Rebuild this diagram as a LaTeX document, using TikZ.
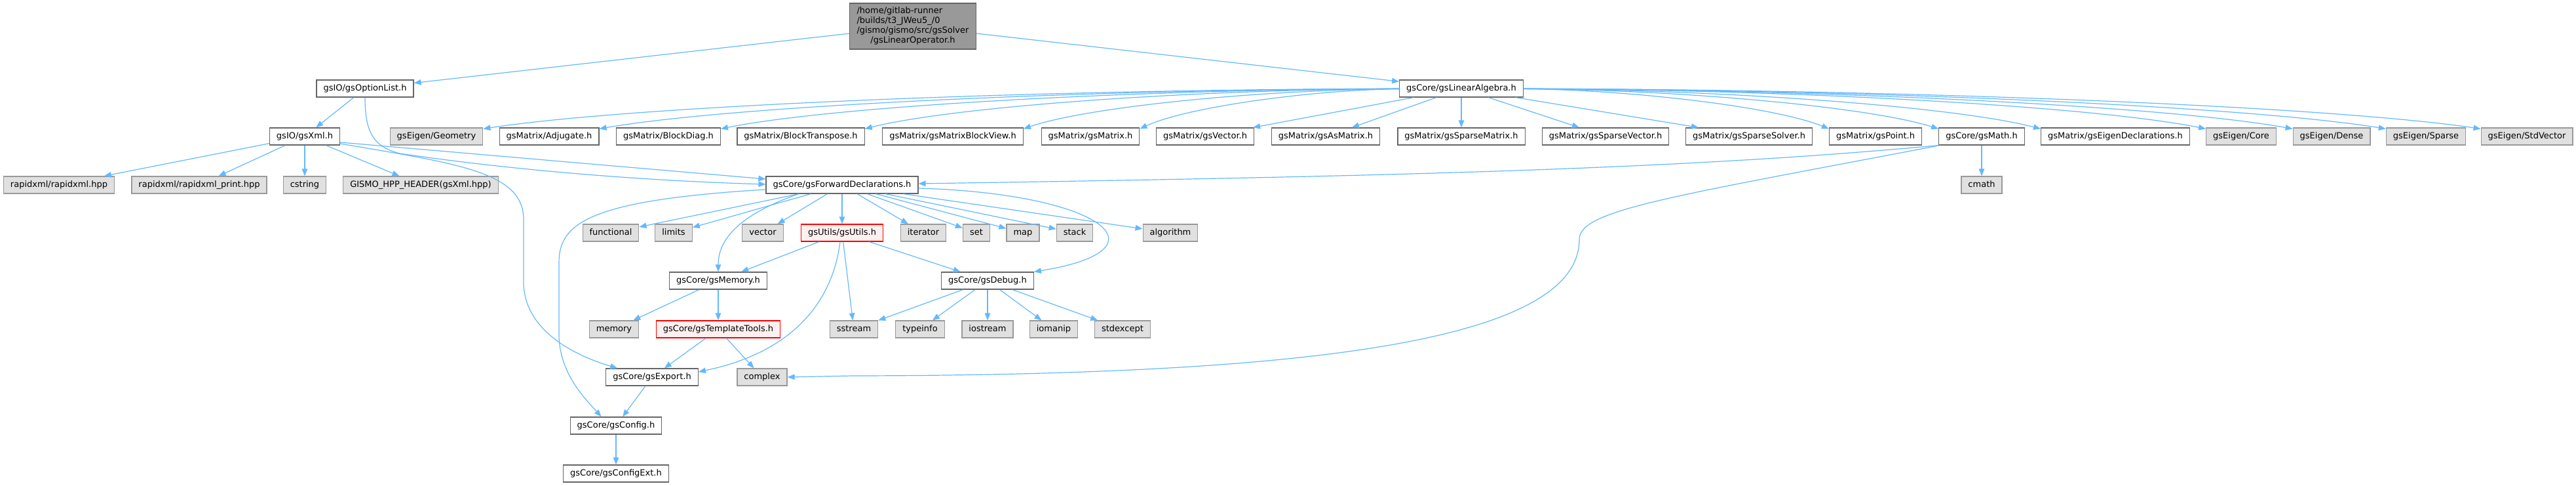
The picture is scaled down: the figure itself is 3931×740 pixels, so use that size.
\documentclass[tikz,border=0pt]{standalone}
\usepackage{fontspec}
\setmainfont{DejaVu Sans}
\usetikzlibrary{arrows.meta,calc}
\definecolor{edgec}{HTML}{63B8FF}
\definecolor{boxline}{HTML}{666666}
\definecolor{extline}{HTML}{999999}
\definecolor{extfill}{HTML}{E0E0E0}
\definecolor{redfill}{HTML}{FFF0F0}
\definecolor{topfill}{HTML}{999999}
\begin{document}
\begin{tikzpicture}[x=1pt,y=-1pt,
  font=\fontsize{13}{15}\selectfont,
  basebox/.style={line width=1.2pt, inner xsep=10.5pt, inner ysep=0pt, minimum height=26pt, text height=9.5pt, text depth=3pt},
  hdr/.style={basebox, draw=boxline, fill=white},
  ext/.style={basebox, draw=extline, fill=extfill},
  redbox/.style={basebox, draw=red, fill=redfill},
  topnode/.style={line width=1.2pt, draw=boxline, fill=topfill, inner xsep=10pt, inner ysep=5pt, minimum width=193pt, minimum height=70pt},
  edge/.style={draw=edgec, line width=1.2pt, -{Triangle[length=11pt,width=8.5pt]}}
]
\useasboundingbox (0,0) rectangle (3931,740);

% row 0
\node[topnode] (top) at (1393,40) {\begin{tabular}{@{}l@{}}/home/gitlab-runner\\/builds/t3\_JWeu5\_/0\\/gismo/gismo/src/gsSolver\\\multicolumn{1}{@{}c@{}}{/gsLinearOperator.h}\end{tabular}};

% row 1
\node[hdr] (optlist) at (557,135) {gsIO/gsOptionList.h};
\node[hdr] (linalg) at (2230,135) {gsCore/gsLinearAlgebra.h};

% row 2
\node[hdr] (xml) at (465,208) {gsIO/gsXml.h};
\node[ext] (geometry) at (666,208) {gsEigen/Geometry};
\node[hdr] (adjugate) at (838,208) {gsMatrix/Adjugate.h};
\node[hdr] (blockdiag) at (1020,208) {gsMatrix/BlockDiag.h};
\node[hdr] (blocktrans) at (1222,208) {gsMatrix/BlockTranspose.h};
\node[hdr] (blockview) at (1454,208) {gsMatrix/gsMatrixBlockView.h};
\node[hdr] (gsmatrix) at (1664,208) {gsMatrix/gsMatrix.h};
\node[hdr] (gsvector) at (1839,208) {gsMatrix/gsVector.h};
\node[hdr] (asmatrix) at (2023,208) {gsMatrix/gsAsMatrix.h};
\node[hdr] (sparsematrix) at (2230,208) {gsMatrix/gsSparseMatrix.h};
\node[hdr] (sparsevector) at (2450,208) {gsMatrix/gsSparseVector.h};
\node[hdr] (sparsesolver) at (2669,208) {gsMatrix/gsSparseSolver.h};
\node[hdr] (point) at (2862,208) {gsMatrix/gsPoint.h};
\node[hdr] (math) at (3024,208) {gsCore/gsMath.h};
\node[hdr] (eigendecl) at (3228,208) {gsMatrix/gsEigenDeclarations.h};
\node[ext] (core) at (3420,208) {gsEigen/Core};
\node[ext] (dense) at (3558,208) {gsEigen/Dense};
\node[ext] (sparse) at (3702,208) {gsEigen/Sparse};
\node[ext] (stdvector) at (3856,208) {gsEigen/StdVector};

% row 3
\node[ext] (rapidxml) at (90,282) {rapidxml/rapidxml.hpp};
\node[ext] (rapidprint) at (304,282) {rapidxml/rapidxml\_print.hpp};
\node[ext] (cstring) at (465,282) {cstring};
\node[ext] (gismohpp) at (642,282) {GISMO\_HPP\_HEADER(gsXml.hpp)};
\node[hdr] (fwd) at (1285,282) {gsCore/gsForwardDeclarations.h};
\node[ext] (cmath) at (3024,282) {cmath};

% row 4
\node[ext] (functional) at (932,355) {functional};
\node[ext] (limits) at (1028,355) {limits};
\node[ext] (vector) at (1164,355) {vector};
\node[redbox] (utils) at (1285,355) {gsUtils/gsUtils.h};
\node[ext] (iterator) at (1409,355) {iterator};
\node[ext] (set) at (1490,355) {set};
\node[ext] (map) at (1561,355) {map};
\node[ext] (stack) at (1640,355) {stack};
\node[ext] (algorithm) at (1786,355) {algorithm};

% row 5
\node[hdr] (memoryh) at (1096,428) {gsCore/gsMemory.h};
\node[hdr] (debug) at (1507,428) {gsCore/gsDebug.h};

% row 6
\node[ext] (memory) at (937,502) {memory};
\node[redbox] (templ) at (1096,502) {gsCore/gsTemplateTools.h};
\node[ext] (sstream) at (1303,502) {sstream};
\node[ext] (typeinfo) at (1404,502) {typeinfo};
\node[ext] (iostream) at (1507,502) {iostream};
\node[ext] (iomanip) at (1608,502) {iomanip};
\node[ext] (stdexcept) at (1713,502) {stdexcept};

% row 7
\node[hdr] (export) at (995,575) {gsCore/gsExport.h};
\node[ext] (complex) at (1163,575) {complex};

% row 8, 9
\node[hdr] (config) at (940,649) {gsCore/gsConfig.h};
\node[hdr] (configext) at (940,722) {gsCore/gsConfigExt.h};

% straight edges
\draw[edge] (top) -- (optlist);
\draw[edge] (top) -- (linalg);
\draw[edge] (optlist) -- (xml);
\foreach \t in {rapidxml,rapidprint,cstring,gismohpp}
  \draw[edge] (xml) -- (\t);

% fan from gsLinearAlgebra
\foreach \t in {geometry,adjugate,blockdiag,blocktrans,blockview,gsmatrix}{
  \coordinate (e-\t) at ([yshift=-2pt]\t.north east);
  \draw[edge] (linalg) .. controls ($(linalg)!0.45!(e-\t) + (0,-26)$) and ($(linalg)!0.85!(e-\t) + (0,-25)$) .. (e-\t);
}
\foreach \t in {point,math,eigendecl,core,dense,sparse,stdvector}{
  \coordinate (e-\t) at ([yshift=-2pt]\t.north west);
  \draw[edge] (linalg) .. controls ($(linalg)!0.45!(e-\t) + (0,-26)$) and ($(linalg)!0.85!(e-\t) + (0,-25)$) .. (e-\t);
}
\draw[edge] (linalg) -- ([xshift=-2pt]gsvector.north east);
\draw[edge] (linalg) -- ([xshift=40pt]asmatrix.north);
\draw[edge] (linalg) -- (sparsematrix);
\draw[edge] (linalg) -- ([xshift=-40pt]sparsevector.north);
\draw[edge] (linalg) -- ([xshift=20pt]sparsesolver.north west);

\draw[edge] (math) -- (cmath);
\foreach \t in {functional,limits,vector,utils,iterator,set,map,stack,algorithm}
  \draw[edge] (fwd) -- (\t);
\foreach \t in {memoryh,sstream,debug}
  \draw[edge] (utils) -- (\t);
\draw[edge] (memoryh) -- (memory);
\draw[edge] (memoryh) -- (templ);
\draw[edge] (templ) -- (export);
\draw[edge] (templ) -- (complex);
\foreach \t in {sstream,typeinfo,iostream,iomanip,stdexcept}
  \draw[edge] (debug) -- (\t);
\draw[edge] (export) -- (config);
\draw[edge] (config) -- (configext);

% curved edges
\draw[edge] (optlist.south) .. controls (557,205) and (572,224) .. (610,234)
  .. controls (800,262) and (1000,276) .. ([yshift=1pt]fwd.west);
\draw[edge] ([yshift=-9pt]xml.east) -- ([yshift=9pt]fwd.west);
\draw[edge] ([yshift=-11pt]xml.east) .. controls (700,250) and (799,262) .. (799,335)
  -- (799,430) .. controls (799,500) and (870,540) .. ([xshift=18pt]export.north west);
\draw[edge] ([yshift=-7pt]fwd.west) .. controls (900,305) and (853,340) .. (853,400)
  -- (853,510) .. controls (853,570) and (895,610) .. ([xshift=48pt]config.north west);
\draw[edge] ([xshift=-66pt]fwd.south) .. controls (1120,330) and (1096,370) .. (memoryh.north);
\draw[edge] ([yshift=-5pt]fwd.east) .. controls (1680,295) and (1790,380) .. (debug.north east);
\draw[edge] ([xshift=-3pt]utils.south) .. controls (1272,450) and (1220,535) .. ([yshift=8pt]export.east);
\draw[edge] (math.south west) .. controls (2600,255) and (2200,268) .. ([yshift=2pt]fwd.east);
\draw[edge] ([xshift=2pt]math.south west) .. controls (2550,300) and (2410,320) .. (2410,365)
  .. controls (2410,520) and (2000,572) .. (1300,573) -- (complex.east);
\end{tikzpicture}
\end{document}
